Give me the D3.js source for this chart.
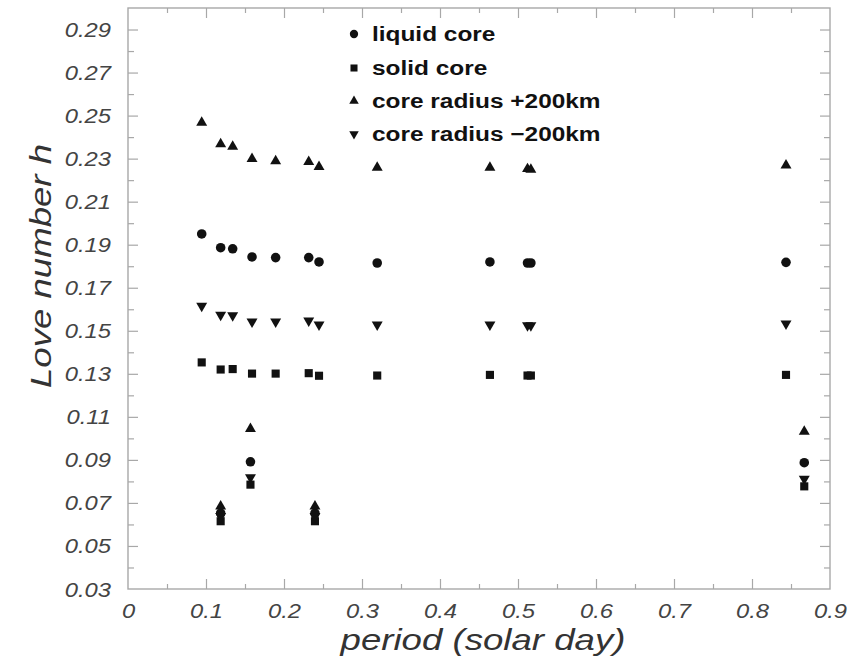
<!DOCTYPE html>
<html>
<head>
<meta charset="utf-8">
<script src="https://cdn.jsdelivr.net/npm/d3@7"></script>
<style>
  html, body { margin: 0; padding: 0; background: #fff; }
  text { font-family: "Liberation Sans", Arial, Helvetica, sans-serif; }
</style>
</head>
<body>
<svg id="chart" width="850" height="659"></svg>
<script>
// ---- data ----
const periods      = [0.0945, 0.1188, 0.1342, 0.159, 0.1893, 0.2317, 0.2449, 0.3195, 0.464, 0.5122, 0.5165, 0.8436,
                      0.1188, 0.157, 0.2397, 0.867];
const liquidCore   = [0.195, 0.1886, 0.1881, 0.1843, 0.184, 0.184, 0.182, 0.1815, 0.182, 0.1815, 0.1815, 0.1818,
                      0.0652, 0.0891, 0.0652, 0.0887];
const solidCore    = [0.1353, 0.132, 0.1322, 0.1301, 0.1301, 0.1303, 0.1291, 0.1292, 0.1295, 0.1292, 0.1292, 0.1295,
                      0.0615, 0.0785, 0.0615, 0.0777];
const radiusPlus   = [0.2467, 0.2368, 0.2356, 0.2299, 0.2289, 0.2285, 0.2262, 0.2258, 0.2258, 0.2252, 0.2249, 0.2269,
                      0.0684, 0.1044, 0.0684, 0.1032];
const radiusMinus  = [0.1616, 0.1574, 0.1571, 0.1542, 0.1542, 0.1547, 0.1528, 0.1528, 0.1528, 0.1525, 0.1525, 0.1533,
                      0.0638, 0.0818, 0.0638, 0.0812];
const seriesNames  = ["liquid core", "solid core", "core radius +200km", "core radius \u2212200km"];
const xTickLabels  = ["0", "0.1", "0.2", "0.3", "0.4", "0.5", "0.6", "0.7", "0.8", "0.9"];
const yTickLabels  = ["0.03", "0.05", "0.07", "0.09", "0.11", "0.13", "0.15", "0.17", "0.19", "0.21", "0.23", "0.25", "0.27", "0.29"];
const xTitle = "period (solar day)";
const yTitle = "Love number h";

// ---- layout ----
const svg = d3.select("#chart");
const L = 128, R = 830, T = 8, B = 589;
const x = d3.scaleLinear().domain([0, 0.9]).range([L, R]);
const y = d3.scaleLinear().domain([0.03, 0.30]).range([B, T]);
const frameColor = "#a8a8a8";
const STRETCH = 1.22;

// frame
svg.append("rect").attr("x", L).attr("y", T).attr("width", R - L).attr("height", B - T)
  .attr("fill", "none").attr("stroke", frameColor).attr("stroke-width", 1.4);

const xMajor = xTickLabels.map(Number);
const xMinor = d3.range(0.05, 0.9, 0.1);
const yMajor = yTickLabels.map(Number);
const yMinor = d3.range(0.04, 0.295, 0.02);

function tickAxis(axisFn, scale, vals, size, transform) {
  const g = svg.append("g").attr("transform", transform)
    .call(axisFn(scale).tickValues(vals).tickSize(size).tickFormat(""));
  g.select(".domain").remove();
  g.selectAll("line").attr("stroke", frameColor).attr("stroke-width", 1.2);
  return g;
}
// inward ticks on all four sides
tickAxis(d3.axisBottom, x, xMajor.slice(1, -1), -10, `translate(0,${B})`);
tickAxis(d3.axisBottom, x, xMinor, -5, `translate(0,${B})`);
tickAxis(d3.axisTop, x, xMajor.slice(1, -1), -10, `translate(0,${T})`);
tickAxis(d3.axisTop, x, xMinor, -5, `translate(0,${T})`);
tickAxis(d3.axisLeft, y, yMajor.slice(1), -10, `translate(${L},0)`);
tickAxis(d3.axisLeft, y, yMinor, -6, `translate(${L},0)`);
tickAxis(d3.axisRight, y, yMajor.slice(1), -10, `translate(${R},0)`);
tickAxis(d3.axisRight, y, yMinor, -6, `translate(${R},0)`);

// tick labels (d3 axes, text only)
const labelColor = "#444";
const gxl = svg.append("g").attr("transform", `translate(0,${B})`)
  .call(d3.axisBottom(x).tickValues(xMajor).tickSize(0).tickPadding(0)
    .tickFormat((d, i) => xTickLabels[i]));
gxl.select(".domain").remove();
gxl.selectAll("text").attr("y", 29).attr("dy", 0)
  .attr("font-size", 19.5).attr("font-style", "italic").attr("fill", labelColor)
  .attr("font-family", "'Liberation Sans', Arial, sans-serif");

const gyl = svg.append("g").attr("transform", `translate(${L},0)`)
  .call(d3.axisLeft(y).tickValues(yMajor).tickSize(0).tickPadding(0)
    .tickFormat((d, i) => yTickLabels[i]));
gyl.select(".domain").remove();
gyl.selectAll("text").attr("x", -17).attr("dy", "0.36em")
  .attr("font-size", 19.5).attr("font-style", "italic").attr("fill", labelColor)
  .attr("font-family", "'Liberation Sans', Arial, sans-serif");

function stretch(sel) {
  sel.each(function() {
    const w = this.getComputedTextLength();
    d3.select(this).attr("textLength", w * STRETCH).attr("lengthAdjust", "spacingAndGlyphs");
  });
}
stretch(gxl.selectAll("text"));
stretch(gyl.selectAll("text"));

// axis titles
svg.append("text").attr("x", (L + R) / 2 + 4).attr("y", 650)
  .attr("text-anchor", "middle").attr("font-size", 30).attr("font-style", "italic")
  .attr("fill", "#333").text(xTitle).call(stretch);
svg.append("text").attr("transform", "translate(51,266) rotate(-90)")
  .attr("text-anchor", "middle").attr("font-size", 30).attr("font-style", "italic")
  .attr("fill", "#333").text(yTitle).call(stretch);

// markers
const markColor = "#111";
const symbols = [
  { vals: liquidCore,  type: d3.symbolCircle,   size: 72, rot: 0 },
  { vals: solidCore,   type: d3.symbolSquare,   size: 66, rot: 0 },
  { vals: radiusPlus,  type: d3.symbolTriangle, size: 52, rot: 0 },
  { vals: radiusMinus, type: d3.symbolTriangle, size: 52, rot: 180 }
];
symbols.forEach(s => {
  const path = d3.symbol().type(s.type).size(s.size)();
  svg.append("g").selectAll("path").data(periods.map((p, i) => [p, s.vals[i]]))
    .join("path")
    .attr("d", path)
    .attr("fill", markColor)
    .attr("transform", d => `translate(${x(d[0])},${y(d[1])}) rotate(${s.rot})`);
});

// legend
const legendRows = [34, 68, 101, 134];
const lg = svg.append("g");
symbols.forEach((s, i) => {
  const path = d3.symbol().type(s.type).size(s.size * 0.75)();
  lg.append("path").attr("d", path).attr("fill", markColor)
    .attr("transform", `translate(354,${legendRows[i]}) rotate(${s.rot})`);
  lg.append("text").attr("x", 372).attr("y", legendRows[i]).attr("dy", "0.36em")
    .attr("font-size", 20).attr("font-weight", "bold").attr("fill", "#111")
    .text(seriesNames[i]).call(stretch);
});
</script>
</body>
</html>
